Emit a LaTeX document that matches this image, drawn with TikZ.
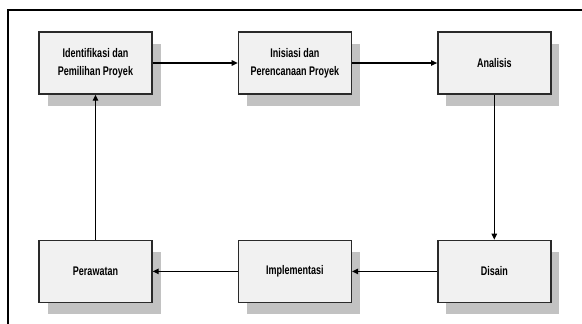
\documentclass[tikz,border=0pt]{standalone}
\usepackage{fontspec}
\setmainfont{Liberation Sans}[FakeStretch=0.72]
\usepackage{xcolor}
\usepackage{tikz}
\usetikzlibrary{positioning, arrows.meta, shadows}
\definecolor{boxfill}{HTML}{F1F1F1}
\definecolor{boxline}{HTML}{2A2A2A}
\definecolor{shadowgray}{HTML}{C2C2C2}

\tikzset{
  fase/.style={fill=boxfill, draw=boxline, line width=1.4pt,
    minimum width=113pt, minimum height=62pt, align=center,
    font=\fontsize{12.5}{18}\selectfont\bfseries,
    drop shadow={shadow xshift=8.5pt, shadow yshift=-12pt, fill=shadowgray, opacity=1}},
  alur/.style={line width=1.2pt, -{Triangle[length=6pt, width=5.5pt]}}
}

\begin{document}
\begin{tikzpicture}[node distance=85pt and 85pt]
    \useasboundingbox (0,0) rectangle (582pt,-324pt);
    % frame
    \draw[line width=2pt] (590pt,-9.5pt) -- (7.5pt,-9.5pt) -- (7.5pt,-330pt);

    \node[fase] (ident) at (95.5pt,-63pt) {Identifikasi dan\\Pemilihan Proyek};
    \node[fase, right=of ident] (inisiasi) {Inisiasi dan\\Perencanaan Proyek};
    \node[fase, right=of inisiasi] (analisis) {Analisis};
    \node[fase, below=145pt of analisis] (disain) {Disain};
    \node[fase, left=of disain] (implementasi) {Implementasi};
    \node[fase, left=of implementasi] (perawatan) {Perawatan};

    \draw[alur] (ident) -- (inisiasi);
    \draw[alur] (inisiasi) -- (analisis);
    \draw[alur] (analisis) -- (disain);
    \draw[alur] (disain) -- (implementasi);
    \draw[alur] (implementasi) -- (perawatan);
    \draw[alur] (perawatan) -- (ident);
  \end{tikzpicture}
\end{document}
